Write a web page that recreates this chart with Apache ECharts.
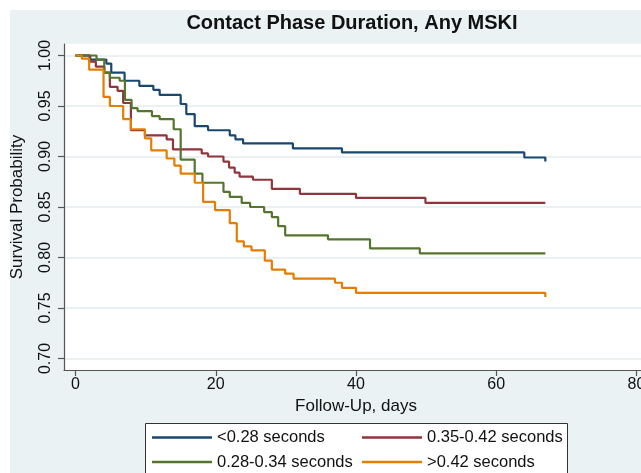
<!DOCTYPE html>
<html>
<head>
<meta charset="utf-8">
<script src="https://cdn.jsdelivr.net/npm/echarts@6/dist/echarts.min.js"></script>
<style>
  html, body { margin: 0; padding: 0; background: #fff; }
  #chart { width: 641px; height: 473px; }
</style>
</head>
<body>
<div id="chart"></div>
<script>
// Kaplan-Meier steps (day, survival after the step)
const lt028Days = [0, 2.1, 4.4, 5.1, 7.0, 9.1, 11.1, 12.0, 15.0, 15.8, 17.0, 18.9, 22.0, 22.8, 23.9, 31.0, 38.0, 64.0, 67.0];
const lt028Surv = [1.0, 0.996, 0.992, 0.983, 0.975, 0.970, 0.966, 0.961, 0.952, 0.942, 0.930, 0.926, 0.921, 0.917, 0.913, 0.908, 0.904, 0.899, 0.895];

const mid035Days = [0, 2.0, 2.9, 4.1, 4.9, 6.0, 6.8, 7.9, 9.9, 13.0, 13.9, 18.0, 18.9, 21.1, 21.9, 22.7, 23.4, 25.3, 28.0, 32.0, 40.0, 49.9, 67.0];
const mid035Surv = [1.0, 0.994, 0.989, 0.983, 0.969, 0.965, 0.953, 0.926, 0.921, 0.917, 0.907, 0.903, 0.900, 0.895, 0.889, 0.884, 0.880, 0.877, 0.868, 0.863, 0.859, 0.854, 0.854];

const mid028Days = [0, 3.0, 4.1, 4.9, 6.3, 7.05, 8.0, 8.85, 10.9, 12.0, 14.0, 15.0, 17.0, 18.1, 21.1, 22.0, 23.7, 24.9, 26.9, 28.0, 28.9, 29.9, 36.0, 42.0, 49.1, 67.0];
const mid028Surv = [1.0, 0.996, 0.983, 0.978, 0.975, 0.956, 0.948, 0.945, 0.940, 0.937, 0.927, 0.897, 0.883, 0.874, 0.865, 0.860, 0.854, 0.850, 0.845, 0.840, 0.831, 0.822, 0.818, 0.809, 0.804, 0.804];

const gt042Days = [0, 0.9, 1.95, 4.0, 4.9, 6.8, 7.9, 9.9, 10.8, 13.0, 14.1, 15.0, 17.0, 18.2, 19.9, 22.0, 23.0, 24.0, 25.1, 27.0, 28.0, 29.9, 31.1, 37.0, 38.0, 40.0, 67.0];
const gt042Surv = [1.0, 0.997, 0.986, 0.959, 0.950, 0.937, 0.927, 0.918, 0.906, 0.898, 0.891, 0.883, 0.874, 0.855, 0.847, 0.834, 0.816, 0.811, 0.807, 0.797, 0.788, 0.784, 0.779, 0.775, 0.770, 0.765, 0.761];

const groupNames = ['<0.28 seconds', '0.35-0.42 seconds', '0.28-0.34 seconds', '>0.42 seconds'];
const groupColors = ['#1a476f', '#90353b', '#55752f', '#e37e00'];
const yTicks = [0.70, 0.75, 0.80, 0.85, 0.90, 0.95, 1.00];
const xTicks = [0, 20, 40, 60, 80];

const FONT = 'Liberation Sans, Arial, sans-serif';

function toPairs(days, surv) {
  return days.map((d, i) => [d, surv[i]]);
}
const groupData = [
  toPairs(lt028Days, lt028Surv),
  toPairs(mid035Days, mid035Surv),
  toPairs(mid028Days, mid028Surv),
  toPairs(gt042Days, gt042Surv),
];

const chart = echarts.init(document.getElementById('chart'));

const legendBase = {
  orient: 'vertical',
  top: 429,
  padding: 0,
  itemGap: 7.5,
  itemWidth: 60,
  itemHeight: 2.5,
  icon: 'rect',
  selectedMode: false,
  z: 10,
  textStyle: { fontFamily: FONT, fontSize: 16.5, color: '#111' },
};

chart.setOption({
  animation: false,
  backgroundColor: '#eaf2f3',
  title: {
    text: 'Contact Phase Duration, Any MSKI',
    left: 352,
    textAlign: 'center',
    top: 13,
    padding: 0,
    textStyle: { fontFamily: FONT, fontSize: 20, fontWeight: 'bold', color: '#111' },
  },
  graphic: [
    { type: 'rect', shape: { x: 0, y: 0, width: 641, height: 10 }, style: { fill: '#fff' }, z: 0 },
    { type: 'rect', shape: { x: 0, y: 0, width: 10, height: 473 }, style: { fill: '#fff' }, z: 0 },
    {
      type: 'rect',
      shape: { x: 145.5, y: 423.5, width: 422, height: 60 },
      style: { fill: '#fff', stroke: '#333', lineWidth: 1 },
      z: 1,
    },
  ],
  legend: [
    Object.assign({}, legendBase, { left: 152, data: [groupNames[0], groupNames[2]] }),
    Object.assign({}, legendBase, { left: 362, data: [groupNames[1], groupNames[3]] }),
  ],
  grid: {
    left: 64,
    top: 44,
    right: -7,
    height: 326,
    show: true,
    backgroundColor: '#fff',
    borderWidth: 0,
    outerBoundsMode: 'none',
  },
  xAxis: {
    type: 'value',
    min: -1.64,
    max: 81.64,
    name: 'Follow-Up, days',
    nameLocation: 'middle',
    nameGap: 27,
    nameTextStyle: { fontFamily: FONT, fontSize: 17, color: '#111' },
    axisLine: { onZero: false, lineStyle: { color: '#555', width: 1.2 } },
    axisTick: { length: 6, customValues: xTicks, lineStyle: { color: '#555', width: 1.2 } },
    axisLabel: { customValues: xTicks, margin: 7, fontFamily: FONT, fontSize: 16, color: '#111' },
    splitLine: { show: false },
  },
  yAxis: {
    type: 'value',
    min: 0.6886,
    max: 1.0114,
    name: 'Survival Probability',
    nameLocation: 'middle',
    nameRotate: 90,
    nameGap: 38,
    nameTextStyle: { fontFamily: FONT, fontSize: 17, color: '#111' },
    axisLine: { show: true, onZero: false, lineStyle: { color: '#555', width: 1.2 } },
    axisTick: { show: true, length: 6, customValues: yTicks, lineStyle: { color: '#555', width: 1.2 } },
    axisLabel: {
      customValues: yTicks,
      rotate: 90,
      margin: 10,
      fontFamily: FONT,
      fontSize: 16,
      color: '#111',
      formatter: (v) => v.toFixed(2),
    },
    splitLine: { show: true, lineStyle: { color: '#e4ecef', width: 1.5 } },
  },
  series: groupNames.map((name, i) => ({
    name: name,
    type: 'line',
    step: 'end',
    data: groupData[i],
    showSymbol: false,
    symbol: 'none',
    color: groupColors[i],
    lineStyle: { width: 2.2, color: groupColors[i] },
  })),
});
</script>
</body>
</html>
